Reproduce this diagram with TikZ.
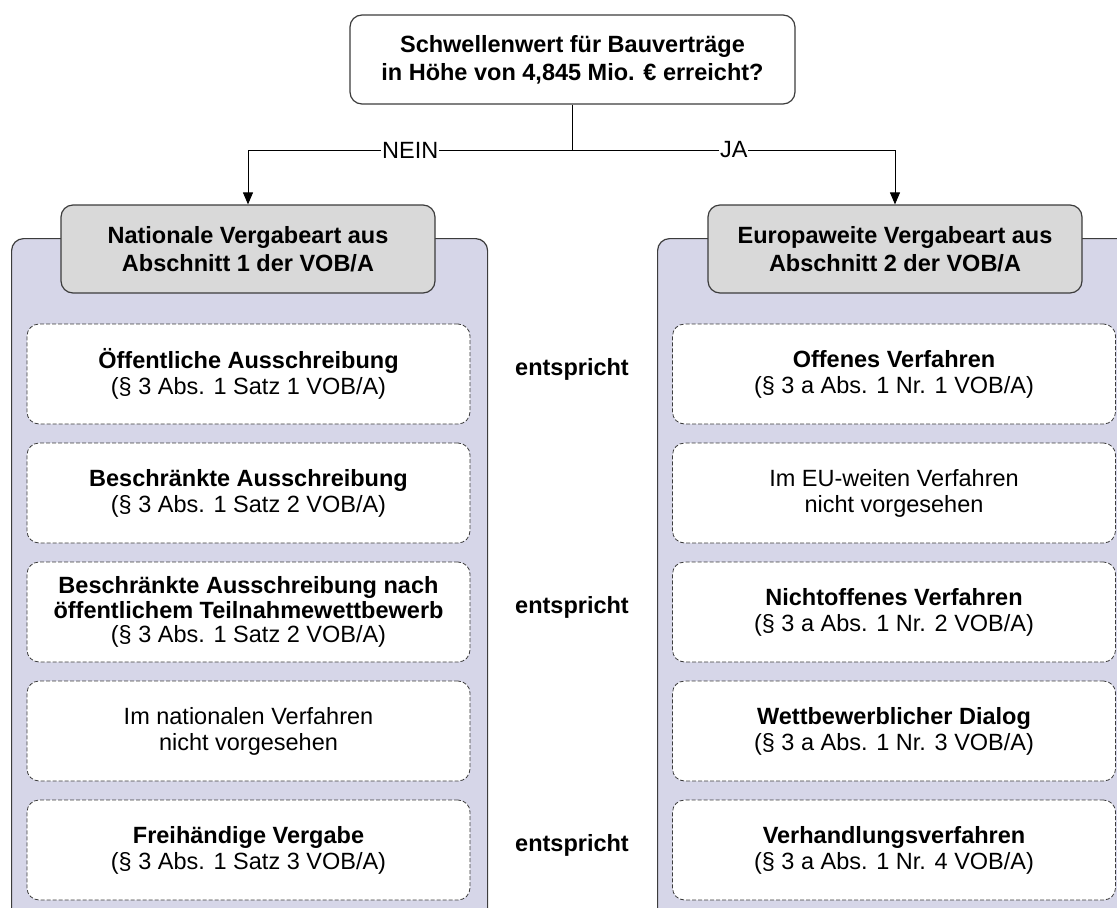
\documentclass[tikz,border=0pt]{standalone}
\usepackage{fontspec}
\setmainfont{Liberation Sans}
\usetikzlibrary{arrows.meta}
\definecolor{panelfill}{RGB}{214,214,232}
\definecolor{hdrfill}{RGB}{217,217,217}
\definecolor{linegray}{RGB}{60,60,60}
\begin{document}
\begin{tikzpicture}[x=1pt,y=-1pt,
  qbox/.style={draw=linegray, line width=1.2pt, rounded corners=12pt, fill=white,
    minimum width=445pt, minimum height=89pt, inner sep=0pt, align=center,
    font=\fontsize{23.5}{28}\selectfont\bfseries},
  hdr/.style={draw=linegray, line width=1.2pt, rounded corners=12pt, fill=hdrfill,
    minimum width=374pt, minimum height=88pt, inner sep=0pt, align=center,
    font=\fontsize{23.5}{28}\selectfont\bfseries},
  panel/.style={draw=linegray, line width=1.2pt, rounded corners=12pt, fill=panelfill,
    inner sep=0pt, anchor=north west},
  item/.style={draw=linegray, line width=0.8pt, dash pattern=on 4pt off 2pt,
    rounded corners=12pt, fill=white, minimum width=443pt, minimum height=100pt,
    inner sep=0pt, align=center, font=\fontsize{23.5}{26}\selectfont},
  eq/.style={font=\fontsize{23.5}{26}\selectfont\bfseries, inner sep=0pt},
  conn/.style={draw=black, line width=1pt},
  lbl/.style={fill=white, inner sep=1pt, font=\fontsize{23.5}{26}\selectfont},
  arr/.style={conn, -{Triangle[length=12pt,width=10pt]}}
]
\useasboundingbox (0,0) rectangle (1117,908);
\clip (0,0) rectangle (1117,908);

% panels
\node[panel, minimum width=476pt, minimum height=700pt] (lp) at (11,238) {};
\node[panel, minimum width=478pt, minimum height=700pt] (rp) at (657,238) {};

% question
\node[qbox] (q) at (572.5,59.5) {Schwellenwert für Bauverträge\\in Höhe von 4,845 Mio. € erreicht?};

% headers
\node[hdr] (lh) at (248,249) {Nationale Vergabeart aus\\Abschnitt 1 der VOB/A};
\node[hdr] (rh) at (895,249) {Europaweite Vergabeart aus\\Abschnitt 2 der VOB/A};

% connectors
\coordinate (split) at (572.5,150);
\draw[conn] (q.south) -- (split);
\draw[arr] (split) -- node[lbl]{NEIN} (lh.north |- split) -- (lh.north);
\draw[arr] (split) -- node[lbl]{JA} (rh.north |- split) -- (rh.north);

% left items
\node[item] (l1) at (248.5,374) {\textbf{Öffentliche Ausschreibung}\\(§ 3 Abs. 1 Satz 1 VOB/A)};
\node[item] (l2) at (248.5,493) {\textbf{Beschränkte Ausschreibung}\\(§ 3 Abs. 1 Satz 2 VOB/A)};
\node[item, font=\fontsize{23.5}{24.5}\selectfont] (l3) at (248.5,612) {\textbf{Beschränkte Ausschreibung nach}\\\textbf{öffentlichem Teilnahmewettbewerb}\\(§ 3 Abs. 1 Satz 2 VOB/A)};
\node[item] (l4) at (248.5,731) {Im nationalen Verfahren\\nicht vorgesehen};
\node[item] (l5) at (248.5,850) {\textbf{Freihändige Vergabe}\\(§ 3 Abs. 1 Satz 3 VOB/A)};

% right items
\node[item] (r1) at (894,374) {\textbf{Offenes Verfahren}\\(§ 3 a Abs. 1 Nr. 1 VOB/A)};
\node[item] (r2) at (894,493) {Im EU-weiten Verfahren\\nicht vorgesehen};
\node[item] (r3) at (894,612) {\textbf{Nichtoffenes Verfahren}\\(§ 3 a Abs. 1 Nr. 2 VOB/A)};
\node[item] (r4) at (894,731) {\textbf{Wettbewerblicher Dialog}\\(§ 3 a Abs. 1 Nr. 3 VOB/A)};
\node[item] (r5) at (894,850) {\textbf{Verhandlungsverfahren}\\(§ 3 a Abs. 1 Nr. 4 VOB/A)};

% equivalences
\node[eq] (e1) at (572,369) {entspricht};
\node[eq] (e3) at (572,607) {entspricht};
\node[eq] (e5) at (572,845) {entspricht};
\end{tikzpicture}
\end{document}
